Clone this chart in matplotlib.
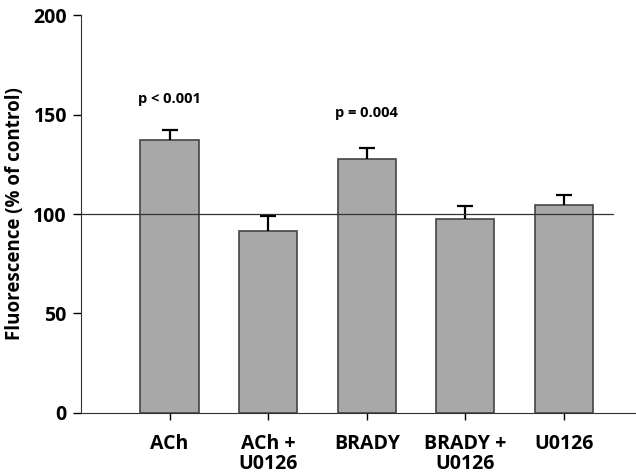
import numpy as np
import matplotlib
matplotlib.use('Agg')
import matplotlib.pyplot as plt

# datos
grupos = ['ACh', 'ACh +\nU0126', 'BRADY', 'BRADY +\nU0126', 'U0126']
media = np.array([137, 91.5, 127.5, 97.5, 104.5])
error = np.array([5, 7.5, 5.5, 6.5, 5])
pvals = ['p < 0.001', '', 'p = 0.004', '', '']
pvals_y = [158, 0, 151, 0, 0]

plt.rcParams['font.family'] = ['Open Sans', 'DejaVu Sans']
plt.rcParams['font.weight'] = 'bold'

fig = plt.figure(figsize=(6.36, 4.74), dpi=100)
ax = fig.add_axes([0.127, 0.129, 0.873, 0.839])

x = np.arange(len(grupos))
ax.bar(x, media, width=0.59, color='#a8a8a8', edgecolor='#444444', linewidth=1.2, zorder=2)
# barras de error solo hacia arriba
ax.vlines(x, media, media + error, color='black', linewidth=1.6, zorder=3)
ax.plot(x, media + error, linestyle='none', marker='_', markersize=12,
        markeredgewidth=1.6, color='black', zorder=3)
ax.plot([-0.9, 4.5], [100, 100], color='#333333', linewidth=0.9, zorder=4)

for i, p in enumerate(pvals):
    if p:
        ax.text(x[i], pvals_y[i], p, ha='center', va='center', fontsize=10.5, fontweight='bold')

ax.set_xlim(-0.9, 4.73)
ax.set_ylim(0, 200)
ax.set_yticks([0, 50, 100, 150, 200])
ax.set_xticks(x)
ax.set_xticklabels(grupos, fontsize=14, fontweight='bold', linespacing=1.05)
ax.tick_params(axis='y', labelsize=14, length=6, width=1, pad=4)
ax.tick_params(axis='x', length=5, width=1, pad=10)
ax.set_ylabel('Fluorescence (% of control)', fontsize=13.5, fontweight='bold', labelpad=6)
ax.spines['top'].set_visible(False)
ax.spines['right'].set_visible(False)
ax.spines['left'].set_color('#333333')
ax.spines['bottom'].set_color('#333333')

fig.savefig('out.png', dpi=100)
